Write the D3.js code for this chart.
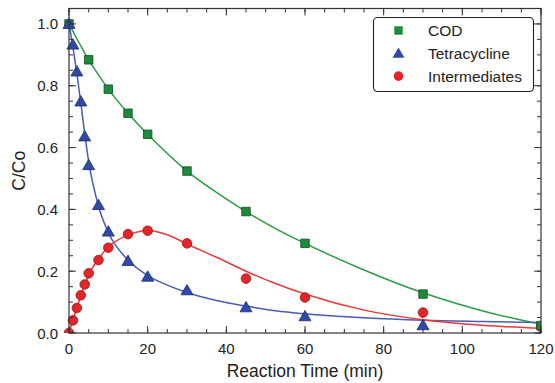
<!DOCTYPE html>
<html>
<head>
<meta charset="utf-8">
<script src="https://cdn.jsdelivr.net/npm/d3@7"></script>
<style>
  body { margin: 0; background: #fff; }
  text { font-family: "Liberation Sans", Arial, sans-serif; fill: #222; }
</style>
</head>
<body>
<div id="chart"></div>
<script>
// measured points
var codTime = [0, 5, 10, 15, 20, 30, 45, 60, 90, 120];
var codValue = [1.0, 0.884, 0.789, 0.711, 0.643, 0.524, 0.393, 0.29, 0.126, 0.024];

var tcTime = [0, 1, 2, 3, 4, 5, 7.5, 10, 15, 20, 30, 45, 60, 90];
var tcValue = [1.0, 0.933, 0.846, 0.749, 0.636, 0.543, 0.414, 0.328, 0.233, 0.182, 0.138, 0.083, 0.054, 0.025];

var intTime = [0, 1, 2, 3, 4, 5, 7.5, 10, 15, 20, 30, 45, 60, 90, 120];
var intValue = [0.0, 0.041, 0.081, 0.122, 0.157, 0.193, 0.236, 0.276, 0.32, 0.331, 0.29, 0.176, 0.115, 0.066, 0.02];

// fitted curves
var fitTime = [0, 1, 2, 3, 4, 5, 7.5, 10, 15, 20, 25, 30, 37.5, 45, 52.5, 60, 75, 90, 105, 120];
var fitCOD = [1.0, 0.976, 0.952, 0.929, 0.906, 0.884, 0.835, 0.789, 0.711, 0.643, 0.581, 0.524, 0.455, 0.393, 0.338, 0.29, 0.204, 0.13, 0.072, 0.028];
var fitTC = [1.0, 0.925, 0.84, 0.745, 0.645, 0.555, 0.41, 0.325, 0.236, 0.186, 0.155, 0.131, 0.105, 0.087, 0.072, 0.062, 0.049, 0.041, 0.037, 0.034];
var fitInt = [0.0, 0.042, 0.082, 0.12, 0.155, 0.188, 0.24, 0.278, 0.317, 0.332, 0.318, 0.288, 0.245, 0.2, 0.16, 0.126, 0.074, 0.043, 0.025, 0.015];

var xTicks = [0, 20, 40, 60, 80, 100, 120];
var yTicks = [0.0, 0.2, 0.4, 0.6, 0.8, 1.0];
var seriesNames = ["COD", "Tetracycline", "Intermediates"];

var width = 555, height = 383;
var margin = { top: 8.5, right: 14, bottom: 50, left: 69 };
var plotW = width - margin.left - margin.right,
  plotH = height - margin.top - margin.bottom;

var svg = d3.select("#chart").append("svg")
  .attr("width", width).attr("height", height);

var x = d3.scaleLinear().domain([0, 120]).range([margin.left, margin.left + plotW]);
var y = d3.scaleLinear().domain([0, 1.05]).range([margin.top + plotH, margin.top]);

var colors = {
  green: { line: "#2e9a45", fill: "#1d8a3c", stroke: "#0e4d20" },
  blue: { line: "#4a5cb6", fill: "#2f49a8", stroke: "#1a2b6e" },
  red: { line: "#e8383a", fill: "#e5242a", stroke: "#8e1616" }
};

svg.append("clipPath").attr("id", "clip")
  .append("rect")
  .attr("x", margin.left - 10).attr("y", margin.top - 10)
  .attr("width", plotW + 10).attr("height", plotH + 10);

var g = svg.append("g").attr("clip-path", "url(#clip)");

var line = function (vals) {
  return d3.line()
    .x(function (d, i) { return x(fitTime[i]); })
    .y(function (d) { return y(d); })
    .curve(d3.curveMonotoneX)(vals);
};

g.append("path").attr("d", line(fitCOD)).attr("fill", "none")
  .attr("stroke", colors.green.line).attr("stroke-width", 1.5);
g.append("path").attr("d", line(fitTC)).attr("fill", "none")
  .attr("stroke", colors.blue.line).attr("stroke-width", 1.5);
g.append("path").attr("d", line(fitInt)).attr("fill", "none")
  .attr("stroke", colors.red.line).attr("stroke-width", 1.5);

var square = d3.symbol().type(d3.symbolSquare).size(72);
var triangle = d3.symbol().type(d3.symbolTriangle).size(62);

function markers(times, vals, c, shape) {
  var sel = g.selectAll(null).data(vals).enter();
  if (shape === "circle") {
    sel.append("circle")
      .attr("cx", function (d, i) { return x(times[i]); })
      .attr("cy", function (d) { return y(d); })
      .attr("r", 4.8)
      .attr("fill", c.fill).attr("stroke", c.stroke).attr("stroke-width", 0.8);
  } else {
    sel.append("path")
      .attr("d", shape)
      .attr("transform", function (d, i) {
        return "translate(" + x(times[i]) + "," + (y(d) + (shape === triangle ? 1 : 0)) + ")";
      })
      .attr("fill", c.fill).attr("stroke", c.stroke).attr("stroke-width", 0.8);
  }
}

markers(intTime, intValue, colors.red, "circle");
markers(codTime, codValue, colors.green, square);
markers(tcTime, tcValue, colors.blue, triangle);

// frame and ticks
var axisColor = "#333";
svg.append("rect")
  .attr("x", margin.left).attr("y", margin.top)
  .attr("width", plotW).attr("height", plotH)
  .attr("fill", "none").attr("stroke", axisColor).attr("stroke-width", 1.2);

var xMinor = d3.range(0, 121, 5);
var yMinor = d3.range(0, 1.051, 0.05);

function xTickMarks(vals, len) {
  svg.selectAll(null).data(vals).enter().append("line")
    .attr("x1", function (d) { return x(d); }).attr("x2", function (d) { return x(d); })
    .attr("y1", y(0)).attr("y2", y(0) - len)
    .attr("stroke", axisColor).attr("stroke-width", 1);
  svg.selectAll(null).data(vals).enter().append("line")
    .attr("x1", function (d) { return x(d); }).attr("x2", function (d) { return x(d); })
    .attr("y1", margin.top).attr("y2", margin.top + len)
    .attr("stroke", axisColor).attr("stroke-width", 1);
}
function yTickMarks(vals, len) {
  svg.selectAll(null).data(vals).enter().append("line")
    .attr("y1", function (d) { return y(d); }).attr("y2", function (d) { return y(d); })
    .attr("x1", x(0)).attr("x2", x(0) + len)
    .attr("stroke", axisColor).attr("stroke-width", 1);
  svg.selectAll(null).data(vals).enter().append("line")
    .attr("y1", function (d) { return y(d); }).attr("y2", function (d) { return y(d); })
    .attr("x1", x(120)).attr("x2", x(120) - len)
    .attr("stroke", axisColor).attr("stroke-width", 1);
}
xTickMarks(xMinor, 4);
xTickMarks(xTicks, 7);
yTickMarks(yMinor, 4);
yTickMarks(yTicks, 7);

svg.selectAll(null).data(xTicks).enter().append("text")
  .attr("x", function (d) { return x(d); })
  .attr("y", y(0) + 21)
  .attr("text-anchor", "middle")
  .style("font-size", "15px")
  .text(function (d) { return d; });

svg.selectAll(null).data(yTicks).enter().append("text")
  .attr("x", margin.left - 11)
  .attr("y", function (d) { return y(d) + 5.5; })
  .attr("text-anchor", "end")
  .style("font-size", "15px")
  .text(function (d) { return d.toFixed(1); });

svg.append("text")
  .attr("x", x(60)).attr("y", 377)
  .attr("text-anchor", "middle")
  .style("font-size", "17.5px")
  .text("Reaction Time (min)");

svg.append("text")
  .attr("transform", "translate(25," + (margin.top + plotH / 2) + ") rotate(-90)")
  .attr("text-anchor", "middle")
  .style("font-size", "17.5px")
  .text("C/Co");

// legend
var legend = svg.append("g");
legend.append("rect")
  .attr("x", 373.5).attr("y", 17.5).attr("width", 160).attr("height", 74)
  .attr("rx", 4).attr("fill", "#fff").attr("stroke", "#222").attr("stroke-width", 1.1);

var legendRows = [
  { name: seriesNames[0], c: colors.green, shape: square },
  { name: seriesNames[1], c: colors.blue, shape: triangle },
  { name: seriesNames[2], c: colors.red, shape: "circle" }
];
legendRows.forEach(function (r, i) {
  var cy = 30.5 + i * 22.8;
  if (r.shape === "circle") {
    legend.append("circle").attr("cx", 398.5).attr("cy", cy).attr("r", 4.8)
      .attr("fill", r.c.fill);
  } else {
    legend.append("path").attr("d", r.shape)
      .attr("transform", "translate(398.5," + (cy + (r.shape === triangle ? 1 : 0)) + ")")
      .attr("fill", r.c.fill);
  }
  legend.append("text")
    .attr("x", 428).attr("y", cy + 5.5)
    .style("font-size", "15.5px")
    .text(r.name);
});
</script>
</body>
</html>
